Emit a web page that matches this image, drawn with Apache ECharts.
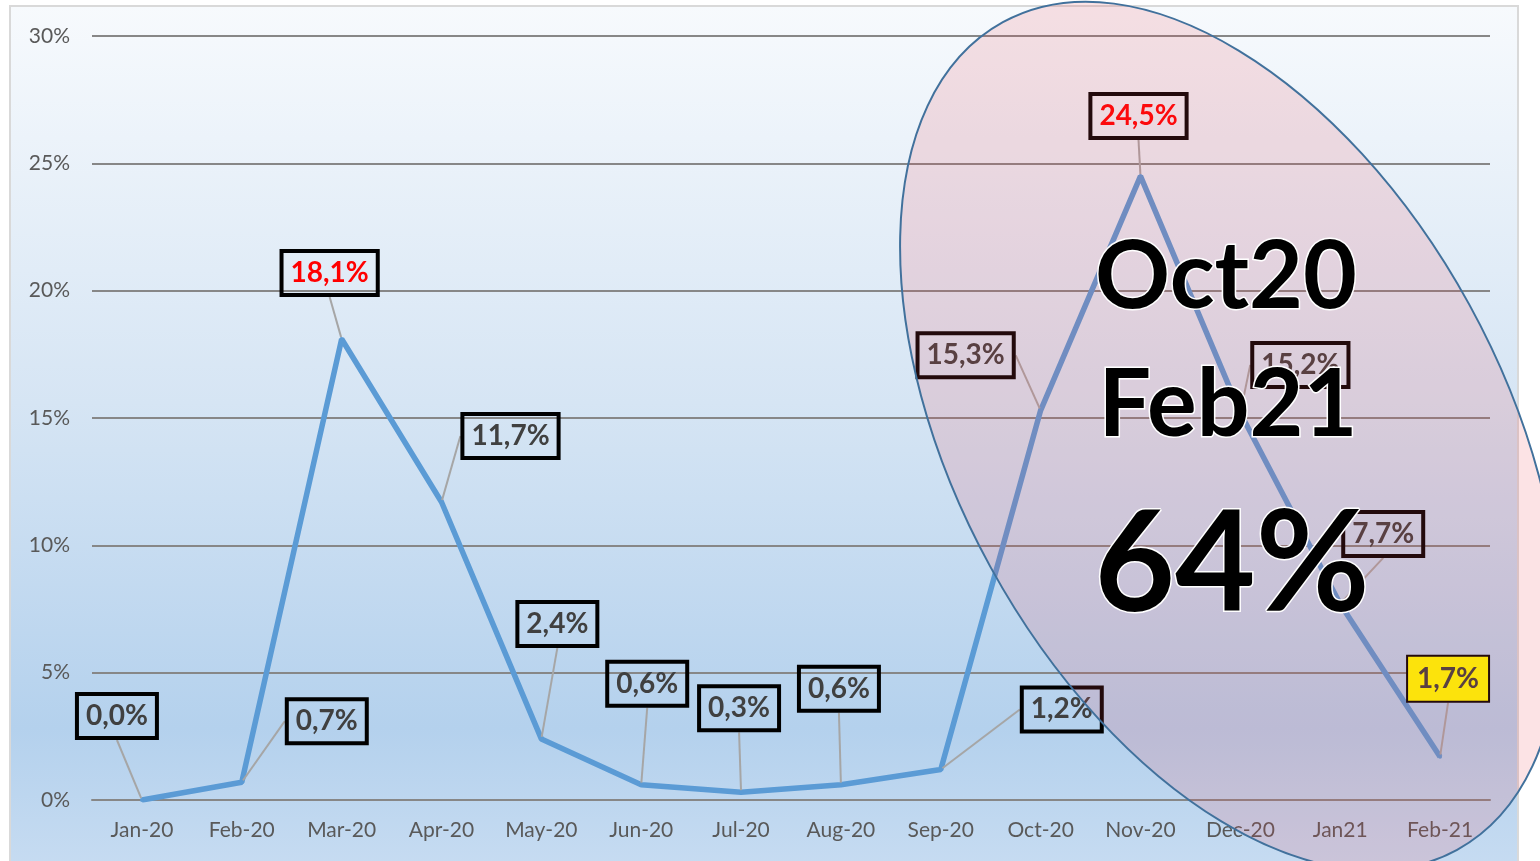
<!DOCTYPE html>
<html><head><meta charset="utf-8">
<script src="https://cdn.jsdelivr.net/npm/echarts@6/dist/echarts.min.js"></script>
<style>html,body{margin:0;padding:0;background:#fff}#c{width:1540px;height:861px}</style>
</head><body><div id="c"></div>
<script>
// ---- data ----
const categories = ['Jan-20','Feb-20','Mar-20','Apr-20','May-20','Jun-20','Jul-20','Aug-20','Sep-20','Oct-20','Nov-20','Dec-20','Jan21','Feb-21'];
const values = [0.0, 0.7, 18.1, 11.7, 2.4, 0.6, 0.3, 0.6, 1.2, 15.3, 24.5, 15.2, 7.7, 1.7];
const yMin = 0, yMax = 30, yStep = 5;
const redLabelIdx = [2, 10];
const yellowLabelIdx = [13];
const overlayTexts = ['Oct20', 'Feb21', '64%'];

// ---- layout (pixel offsets of label boxes from their points) ----
const labelOffsets = [[-25,-84],[85,-61],[-12,-66],[69,-66],[16,-115],[6,-101],[-2,-84],[-2,-96],[121,-60],[-75,-55],[-2,-60],[60,-48],[43,-70],[8,-78]];

const FONT = 'Lato, "Open Sans", sans-serif';
const fmt = v => v.toFixed(1).replace('.', ',') + '%';

const seriesData = values.map((v, i) => {
  const item = { value: v };
  if (redLabelIdx.includes(i)) item.label = { color: '#FF0000' };
  if (yellowLabelIdx.includes(i)) item.label = { backgroundColor: '#FFFF00' };
  return item;
});

const chart = echarts.init(document.getElementById('c'), null, { renderer: 'canvas' });
chart.setOption({
  animation: false,
  backgroundColor: '#ffffff',
  grid: { left: 92, right: 50, top: 36, bottom: 61, containLabel: false },
  xAxis: {
    type: 'category', data: categories, boundaryGap: true,
    axisLine: { show: true, lineStyle: { color: '#878787', width: 2 } },
    axisTick: { show: false },
    axisLabel: { color: '#595959', fontSize: 21, fontFamily: FONT, margin: 20 }
  },
  yAxis: {
    type: 'value', min: yMin, max: yMax, interval: yStep,
    axisLine: { show: false }, axisTick: { show: false },
    splitLine: { lineStyle: { color: '#878787', width: 2 } },
    axisLabel: { formatter: '{value}%', color: '#595959', fontSize: 21, fontFamily: FONT, margin: 22 }
  },
  series: [{
    type: 'line', data: seriesData,
    symbol: 'circle', symbolSize: 4, showSymbol: true,
    lineStyle: { color: '#5B9BD5', width: 5.5 },
    itemStyle: { color: '#5B9BD5' },
    label: {
      show: true, formatter: p => fmt(p.value),
      fontFamily: FONT, fontSize: 28, fontWeight: 'bold', color: '#404040',
      lineHeight: 30, padding: [8, 9, 6, 9],
      borderColor: '#000000', borderWidth: 2, backgroundColor: 'transparent'
    },
    labelLine: { show: true, lineStyle: { color: '#A6A6A6', width: 2 } },
    labelLayout: function (p) {
      const o = labelOffsets[p.dataIndex];
      return {
        x: p.rect.x + p.rect.width / 2 + o[0],
        y: p.rect.y + p.rect.height / 2 + o[1],
        align: 'center', verticalAlign: 'middle'
      };
    },
    z: 3
  }],
  graphic: [
    {
      type: 'rect', z: -10, silent: true,
      shape: { x: 10, y: 6, width: 1508, height: 880 },
      style: {
        fill: new echarts.graphic.LinearGradient(0, 0, 0, 1, [
          { offset: 0, color: '#F7FAFD' },
          { offset: 0.45, color: '#D6E5F4' },
          { offset: 0.82, color: '#B4D1ED' },
          { offset: 1, color: '#C9DDF2' }
        ]),
        stroke: '#D9D9D9', lineWidth: 2
      }
    },
    {
      type: 'ellipse', z: 20, silent: true,
      x: 1230, y: 436, rotation: 0.502,
      shape: { cx: 0, cy: 0, rx: 273, ry: 472 },
      style: { fill: 'rgba(233,67,80,0.15)', stroke: '#41719C', lineWidth: 2 }
    },
    {
      type: 'text', z: 30, silent: true, x: 1226, y: 278,
      style: { text: overlayTexts[0], font: 'bold 93px ' + FONT, fill: '#000', stroke: '#fff', lineWidth: 3, strokeFirst: true, align: 'center', verticalAlign: 'middle' }
    },
    {
      type: 'text', z: 30, silent: true, x: 1228, y: 406,
      style: { text: overlayTexts[1], font: 'bold 93px ' + FONT, fill: '#000', stroke: '#fff', lineWidth: 3, strokeFirst: true, align: 'center', verticalAlign: 'middle' }
    },
    {
      type: 'text', z: 30, silent: true, x: 1232, y: 566,
      style: { text: overlayTexts[2], font: 'bold 139px ' + FONT, fill: '#000', stroke: '#fff', lineWidth: 3, strokeFirst: true, align: 'center', verticalAlign: 'middle' }
    }
  ]
});
</script></body></html>
